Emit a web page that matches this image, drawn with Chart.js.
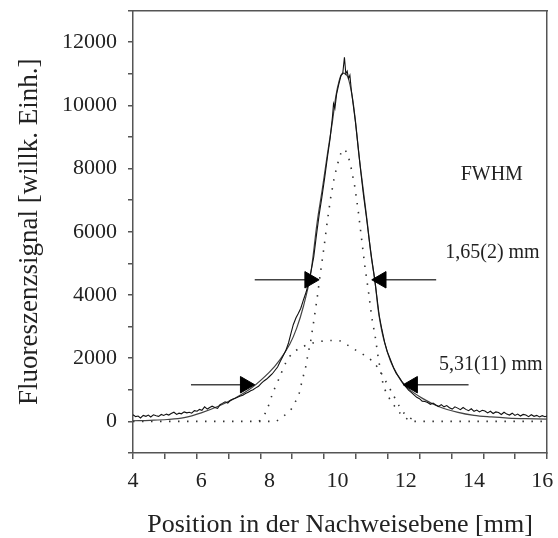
<!DOCTYPE html>
<html><head><meta charset="utf-8">
<script src="https://cdn.jsdelivr.net/npm/chart.js@4"></script>
<style>html,body{margin:0;padding:0;background:#fff}#wrap{width:558px;height:538px}</style>
</head><body><div id="wrap"><canvas id="c" width="558" height="538"></canvas></div>
<script>
// ---- data ----
const measX = [4.00,4.08,4.15,4.22,4.30,4.38,4.45,4.52,4.60,4.68,4.75,4.83,4.90,4.98,5.05,5.12,5.20,5.28,5.35,5.42,5.50,5.58,5.65,5.72,5.80,5.88,5.95,6.02,6.10,6.18,6.25,6.32,6.40,6.48,6.55,6.62,6.70,6.78,6.85,6.92,7.00,7.08,7.15,7.22,7.30,7.38,7.45,7.52,7.60,7.68,7.76,7.84,7.92,8.00,8.08,8.16,8.24,8.32,8.40,8.48,8.56,8.63,8.70,8.78,8.85,8.92,9.00,9.08,9.15,9.22,9.30,9.38,9.46,9.54,9.62,9.70,9.78,9.85,9.88,9.92,9.97,10.03,10.10,10.15,10.20,10.24,10.28,10.32,10.36,10.40,10.46,10.52,10.60,10.68,10.76,10.84,10.92,11.00,11.08,11.15,11.22,11.30,11.38,11.46,11.55,11.64,11.72,11.80,11.90,12.00,12.08,12.16,12.24,12.32,12.40,12.48,12.56,12.64,12.72,12.80,12.88,12.96,13.04,13.12,13.20,13.28,13.36,13.44,13.52,13.60,13.68,13.76,13.84,13.92,14.00,14.08,14.16,14.24,14.32,14.40,14.48,14.56,14.64,14.72,14.80,14.88,14.96,15.04,15.12,15.20,15.28,15.36,15.44,15.52,15.60,15.68,15.76,15.84,15.92,16.00,16.08,16.14];
const measY = [210,150,170,110,190,160,200,140,210,180,160,220,190,230,200,250,290,220,260,240,300,270,290,260,340,320,380,350,
  460,390,440,480,440,410,530,570,620,580,660,700,730,770,800,830,880,920,970,1000,1060,1110,1200,1280,1340,1420,1500,1610,1720,1900,2070,2240,2480,2780,3060,3280,3420,3580,3850,4100,4400,4750,5200,5900,6550,7100,7700,8350,8950,9650,10050,9900,10350,10650,10950,11000,11520,11000,11080,10850,10950,10500,10000,9500,8700,7900,7150,6500,5800,5150,4550,3950,3350,2900,2500,2200,1950,1700,1520,1400,1240,1100,990,920,840,760,720,640,630,
  600,540,580,520,470,530,460,500,430,390,460,420,370,440,380,340,400,320,360,300,350,330,270,320,250,300,280,220,290,230,200,260,190,230,170,220,200,150,210,160,190,140,180,150,170];
const fitX = [4.0,4.5,5.0,5.5,6.0,6.5,7.0,7.5,8.0,8.3,8.6,8.8,9.0,9.2,9.4,9.55,9.7,9.85,9.95,10.05,10.13,10.2,10.3,10.43,10.53,10.63,10.75,10.87,10.98,11.1,11.2,11.35,11.55,11.8,12.0,12.5,13.0,13.5,14.0,14.5,15.0,15.5,16.14];
const fitY = [20,35,60,120,270,480,740,1080,1560,1940,2450,2950,3650,4600,6300,7340,8450,9500,10300,10800,11000,11010,10900,10270,9430,8390,7340,6300,5260,4400,3450,2600,1910,1390,1100,720,455,295,190,140,105,85,70];
const narrowX = [4.0,8.2,8.4,8.6,8.7,8.87,8.96,9.06,9.14,9.21,9.29,9.4,9.5,9.6,9.7,9.8,9.9,10.0,10.1,10.2,10.3,10.4,10.5,10.6,10.7,10.8,10.9,11.0,11.1,11.2,11.35,11.55,11.8,12.0,12.2,16.14];
const narrowY = [0,0,150,330,480,870,1290,1700,2170,2540,3100,3900,4730,5500,6350,7100,7700,8150,8500,8620,8450,8000,7450,6700,5800,4900,4150,3300,2700,1950,1080,660,290,100,0,0];
const broadX = [7.7,7.9,8.1,8.3,8.5,8.7,8.9,9.2,9.5,9.8,10.1,10.33,10.57,10.82,11.06,11.26,11.4,11.6,11.8,12.0,12.3];
const broadY = [0,300,900,1400,1900,2180,2320,2460,2530,2560,2540,2390,2230,2070,1860,1560,1290,900,500,200,0];
// arrows: [start, head] in data units
const arrowNarrowLeftX = [7.57, 9.18], arrowNarrowLeftY = [4480, 4480];
const arrowNarrowRightX = [12.89, 11.28], arrowNarrowRightY = [4480, 4480];
const arrowBroadLeftX = [5.70, 7.29], arrowBroadLeftY = [1160, 1160];
const arrowBroadRightX = [13.84, 12.20], arrowBroadRightY = [1160, 1160];
const noteTexts = ['FWHM', '1,65(2) mm', '5,31(11) mm'];
const noteX = [14.52, 14.54, 14.49];
const noteY = [7800, 5320, 1800];
const xTickValues = [4, 6, 8, 10, 12, 14, 16];
const yTickValues = [0, 2000, 4000, 6000, 8000, 10000, 12000];

const pts = (xs, ys) => xs.map((x, i) => ({x, y: ys[i]}));
const SERIF = "'Liberation Serif', 'Times New Roman', serif";
const AX = '#555';
const NONE = 'rgba(0,0,0,0)';

function arrowDs(xs, ys, rot) {
  return {data: pts(xs, ys), borderColor: '#444', borderWidth: 1.5, showLine: true,
    pointRadius: [0, 9.5], pointStyle: 'triangle', pointRotation: rot,
    pointBackgroundColor: '#000', pointBorderColor: '#000', pointBorderWidth: 1, order: 0};
}

const notesPlugin = {
  id: 'notes',
  afterDatasetsDraw(chart) {
    const {ctx, scales: {x, y}} = chart;
    ctx.save();
    ctx.font = "20px " + SERIF;
    ctx.fillStyle = '#222';
    ctx.textAlign = 'center';
    ctx.textBaseline = 'middle';
    noteTexts.forEach((t, i) => ctx.fillText(t, x.getPixelForValue(noteX[i]), y.getPixelForValue(noteY[i])));
    ctx.restore();
  }
};

new Chart(document.getElementById('c'), {
  type: 'scatter',
  data: {datasets: [
    {data: pts(narrowX, narrowY), showLine: true, borderColor: '#333', borderWidth: 1.6, borderDash: [1.5, 7.5], pointRadius: 0, order: 3},
    {data: pts(broadX, broadY), showLine: true, borderColor: '#333', borderWidth: 1.6, borderDash: [1.5, 7.5], pointRadius: 0, tension: 0.3, order: 3},
    {data: pts(fitX, fitY), showLine: true, borderColor: '#444', borderWidth: 1.2, pointRadius: 0, tension: 0.35, order: 2},
    {data: pts(measX, measY), showLine: true, borderColor: '#111', borderWidth: 1.1, pointRadius: 0, order: 1},
    arrowDs(arrowNarrowLeftX, arrowNarrowLeftY, 90),
    arrowDs(arrowNarrowRightX, arrowNarrowRightY, -90),
    arrowDs(arrowBroadLeftX, arrowBroadLeftY, 90),
    arrowDs(arrowBroadRightX, arrowBroadRightY, -90)
  ]},
  options: {
    responsive: false, animation: false, devicePixelRatio: 1,
    layout: {padding: {top: -4, left: 0, right: 0, bottom: 0}},
    plugins: {legend: {display: false}, tooltip: {enabled: false}},
    scales: {
      x: {type: 'linear', position: 'bottom', weight: 1, min: 4, max: 16.14,
        border: {display: false}, grid: {display: true, drawOnChartArea: false, drawTicks: true, tickLength: 9, color: NONE},
        afterBuildTicks: s => { s.ticks = xTickValues.map(v => ({value: v})); },
        ticks: {color: '#222', padding: 0, maxRotation: 0, autoSkip: false, font: {family: SERIF, size: 22},
          callback: v => String(v)},
        title: {display: true, text: 'Position in der Nachweisebene [mm]', color: '#222',
          font: {family: SERIF, size: 26, lineHeight: 1.0}, padding: {top: 0, bottom: 0}},
        afterFit: s => { s.height = 79; }},
      xt: {type: 'linear', position: 'bottom', weight: 0, min: 0, max: 13,
        border: {display: true, color: AX, width: 1.5},
        grid: {display: true, drawOnChartArea: false, drawTicks: true, tickLength: 6, color: AX, lineWidth: 1.5},
        ticks: {display: false, stepSize: 1},
        afterFit: s => { s.height = 6; }},
      xTop: {type: 'linear', position: 'top', min: 0, max: 1,
        border: {display: true, color: AX, width: 1.5}, grid: {display: false, drawTicks: false}, ticks: {display: false},
        afterFit: s => { s.height = 6; }},
      y: {type: 'linear', position: 'left', weight: 1, min: -1000, max: 13000,
        border: {display: false},
        grid: {display: true, drawOnChartArea: false, drawTicks: true, tickLength: 11, color: NONE},
        afterBuildTicks: s => { s.ticks = yTickValues.map(v => ({value: v})); },
        ticks: {padding: 0, color: '#222', font: {family: SERIF, size: 22, lineHeight: 0.1},
          callback: v => String(v)},
        title: {display: true, text: 'Fluoreszenzsignal [willk. Einh.]', color: '#222',
          font: {family: SERIF, size: 27, lineHeight: 1.0}, padding: {top: 16, bottom: 0}},
        afterFit: s => { s.width = 128; }},
      yt: {type: 'linear', position: 'left', weight: 0, min: -1000, max: 13000,
        border: {display: true, color: AX, width: 1.5},
        grid: {display: true, drawOnChartArea: false, drawTicks: true, tickLength: 5, color: AX, lineWidth: 1.5},
        ticks: {display: false, stepSize: 1000},
        afterFit: s => { s.width = 5; }},
      yRight: {type: 'linear', position: 'right', min: 0, max: 1,
        border: {display: true, color: AX, width: 1.5}, grid: {display: false, drawTicks: false}, ticks: {display: false},
        afterFit: s => { s.width = 11; }}
    }
  },
  plugins: [notesPlugin]
});
</script></body></html>
